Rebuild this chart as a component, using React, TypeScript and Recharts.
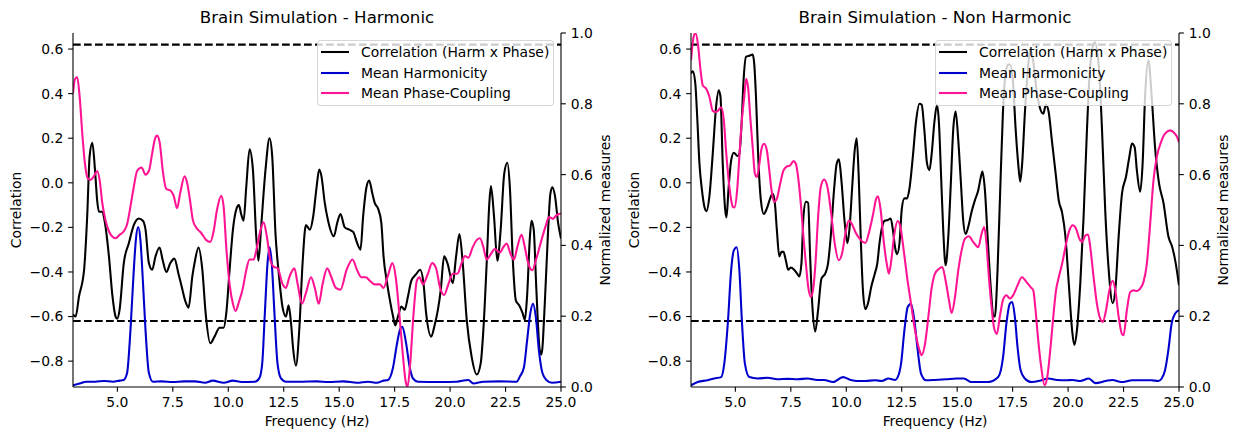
import React from 'react';
import { LineChart, Line, XAxis, YAxis, ReferenceLine, Legend } from 'recharts';

type Pt = [number, number];

// ---------- Harmonic panel ----------
const harmCorr: Pt[] = [
  [3.0, -0.59], [3.12, -0.6], [3.27, -0.51], [3.5, -0.39], [3.64, -0.15], [3.75, 0.12], [3.87, 0.18], [3.99, 0.06],
  [4.09, -0.08], [4.17, -0.13], [4.32, -0.13], [4.44, -0.18], [4.62, -0.33], [4.77, -0.5], [4.92, -0.6], [4.99, -0.61],
  [5.1, -0.57], [5.29, -0.36], [5.52, -0.27], [5.74, -0.19], [5.97, -0.16], [6.15, -0.17], [6.27, -0.21], [6.42, -0.36],
  [6.57, -0.39], [6.72, -0.33], [6.9, -0.29], [7.05, -0.35], [7.21, -0.4], [7.39, -0.36], [7.57, -0.34], [7.76, -0.41],
  [7.91, -0.47], [8.06, -0.53], [8.21, -0.56], [8.38, -0.42], [8.48, -0.36], [8.66, -0.29], [8.83, -0.39], [8.98, -0.585],
  [9.19, -0.72], [9.38, -0.69], [9.61, -0.65], [9.79, -0.65], [9.91, -0.585], [10.06, -0.39], [10.21, -0.21], [10.36, -0.12],
  [10.48, -0.1], [10.58, -0.14], [10.69, -0.17], [10.81, -0.02], [10.96, 0.15], [11.11, 0.06], [11.26, -0.24], [11.36, -0.35],
  [11.48, -0.2], [11.68, 0.06], [11.86, 0.2], [11.98, 0.12], [12.13, -0.23], [12.28, -0.41], [12.45, -0.56], [12.6, -0.6],
  [12.72, -0.55], [12.83, -0.63], [12.93, -0.75], [13.05, -0.82], [13.2, -0.66], [13.35, -0.36], [13.5, -0.19], [13.68, -0.21],
  [13.83, -0.15], [13.98, -0.02], [14.1, 0.06], [14.2, 0.03], [14.35, -0.09], [14.5, -0.17], [14.76, -0.24], [14.91, -0.18],
  [15.06, -0.14], [15.25, -0.2], [15.45, -0.21], [15.63, -0.22], [15.81, -0.27], [15.96, -0.3], [16.08, -0.15], [16.23, -0.02],
  [16.35, 0.01], [16.5, -0.05], [16.6, -0.09], [16.75, -0.115], [16.9, -0.18], [17.0, -0.33], [17.16, -0.45], [17.31, -0.54],
  [17.43, -0.6], [17.53, -0.64], [17.65, -0.6], [17.8, -0.555], [17.95, -0.57], [18.1, -0.51], [18.25, -0.44], [18.47, -0.41],
  [18.65, -0.39], [18.8, -0.45], [18.92, -0.585], [19.15, -0.69], [19.3, -0.64], [19.45, -0.57], [19.58, -0.48], [19.73, -0.33],
  [19.88, -0.36], [20.12, -0.45], [20.27, -0.33], [20.42, -0.23], [20.57, -0.36], [20.75, -0.615], [20.97, -0.78], [21.2, -0.86],
  [21.38, -0.81], [21.5, -0.66], [21.65, -0.36], [21.77, -0.09], [21.84, -0.015], [21.98, -0.15], [22.13, -0.35], [22.28, -0.21],
  [22.44, 0.04], [22.58, 0.09], [22.7, -0.03], [22.82, -0.33], [22.97, -0.53], [23.12, -0.55], [23.27, -0.585], [23.37, -0.615],
  [23.47, -0.51], [23.6, -0.24], [23.67, -0.17], [23.77, -0.21], [23.89, -0.48], [24.04, -0.75], [24.12, -0.77], [24.27, -0.54],
  [24.42, -0.21], [24.52, -0.05], [24.61, -0.02], [24.73, -0.06], [24.87, -0.18], [25.0, -0.25],
];

const harmHarm: Pt[] = [
  [3.0, 0.005], [3.3, 0.01], [3.6, 0.015], [4.0, 0.015], [4.4, 0.017], [4.8, 0.015], [5.1, 0.018], [5.29, 0.02],
  [5.44, 0.04], [5.59, 0.16], [5.74, 0.33], [5.84, 0.42], [5.94, 0.452], [6.04, 0.415], [6.15, 0.3], [6.27, 0.16],
  [6.42, 0.04], [6.6, 0.015], [7.0, 0.016], [7.5, 0.014], [8.0, 0.016], [8.5, 0.016], [8.95, 0.012], [9.3, 0.018],
  [9.8, 0.012], [10.2, 0.018], [10.6, 0.014], [11.2, 0.015], [11.4, 0.025], [11.53, 0.066], [11.65, 0.21], [11.77, 0.35],
  [11.86, 0.395], [11.96, 0.35], [12.08, 0.21], [12.22, 0.066], [12.38, 0.024], [12.6, 0.015], [13.2, 0.015], [14.0, 0.016],
  [14.5, 0.014], [15.2, 0.016], [15.8, 0.012], [16.3, 0.015], [16.7, 0.012], [17.0, 0.018], [17.2, 0.02], [17.43, 0.056],
  [17.6, 0.12], [17.76, 0.165], [17.85, 0.17], [18.0, 0.13], [18.18, 0.056], [18.33, 0.024], [18.55, 0.015], [19.5, 0.014],
  [20.3, 0.015], [20.82, 0.02], [21.05, 0.01], [21.5, 0.015], [22.2, 0.016], [23.0, 0.015], [23.15, 0.03], [23.33, 0.056],
  [23.47, 0.13], [23.62, 0.21], [23.74, 0.235], [23.86, 0.2], [24.01, 0.1], [24.16, 0.04], [24.34, 0.02], [24.6, 0.012],
  [25.0, 0.015],
];

const harmPhase: Pt[] = [
  [3.0, 0.83], [3.09, 0.87], [3.19, 0.875], [3.3, 0.82], [3.42, 0.715], [3.54, 0.63], [3.66, 0.59], [3.79, 0.585],
  [3.94, 0.595], [4.09, 0.61], [4.2, 0.585], [4.32, 0.52], [4.47, 0.47], [4.62, 0.44], [4.77, 0.425], [4.92, 0.42],
  [5.1, 0.43], [5.29, 0.44], [5.44, 0.46], [5.59, 0.51], [5.74, 0.565], [5.89, 0.61], [6.09, 0.62], [6.27, 0.6],
  [6.42, 0.61], [6.57, 0.66], [6.69, 0.7], [6.79, 0.71], [6.91, 0.69], [7.05, 0.61], [7.2, 0.56], [7.39, 0.555],
  [7.54, 0.54], [7.69, 0.505], [7.84, 0.55], [8.03, 0.595], [8.15, 0.575], [8.27, 0.53], [8.41, 0.47], [8.56, 0.45],
  [8.78, 0.435], [9.01, 0.415], [9.19, 0.41], [9.34, 0.44], [9.49, 0.5], [9.68, 0.54], [9.79, 0.51], [9.91, 0.395],
  [10.06, 0.29], [10.21, 0.235], [10.33, 0.215], [10.48, 0.24], [10.66, 0.28], [10.81, 0.33], [10.96, 0.36], [11.14, 0.36],
  [11.26, 0.385], [11.44, 0.44], [11.59, 0.465], [11.74, 0.425], [11.89, 0.36], [12.04, 0.34], [12.23, 0.335], [12.45, 0.29],
  [12.6, 0.28], [12.75, 0.31], [12.98, 0.335], [13.13, 0.29], [13.32, 0.235], [13.5, 0.265], [13.73, 0.31], [13.9, 0.28],
  [14.08, 0.235], [14.25, 0.29], [14.46, 0.335], [14.65, 0.31], [14.85, 0.28], [15.06, 0.275], [15.33, 0.33], [15.6, 0.36],
  [15.81, 0.33], [16.0, 0.31], [16.2, 0.31], [16.38, 0.3], [16.6, 0.29], [16.83, 0.29], [17.0, 0.28], [17.2, 0.315],
  [17.4, 0.35], [17.55, 0.31], [17.7, 0.215], [17.85, 0.105], [18.0, 0.015], [18.08, 0.0], [18.2, 0.065], [18.35, 0.205],
  [18.5, 0.3], [18.62, 0.31], [18.77, 0.29], [19.0, 0.32], [19.19, 0.35], [19.37, 0.335], [19.55, 0.28], [19.73, 0.26],
  [19.92, 0.29], [20.12, 0.32], [20.33, 0.32], [20.52, 0.35], [20.67, 0.37], [20.82, 0.365], [21.02, 0.395], [21.2, 0.415],
  [21.35, 0.42], [21.5, 0.395], [21.65, 0.36], [21.83, 0.375], [22.02, 0.39], [22.25, 0.38], [22.4, 0.395], [22.55, 0.405],
  [22.73, 0.375], [22.88, 0.36], [23.03, 0.395], [23.22, 0.43], [23.37, 0.395], [23.52, 0.35], [23.7, 0.33], [23.9, 0.365],
  [24.12, 0.415], [24.31, 0.455], [24.46, 0.48], [24.64, 0.475], [24.79, 0.485], [25.0, 0.49],
];

// ---------- Non harmonic panel ----------
const nonCorr: Pt[] = [
  [3.0, 0.49], [3.08, 0.5], [3.19, 0.45], [3.28, 0.295], [3.38, 0.087], [3.49, -0.03], [3.61, -0.11], [3.7, -0.127],
  [3.83, -0.06], [3.98, 0.13], [4.13, 0.34], [4.25, 0.415], [4.33, 0.385], [4.43, 0.087], [4.54, -0.12], [4.6, -0.155],
  [4.69, -0.03], [4.81, 0.1], [4.93, 0.135], [5.1, 0.12], [5.18, 0.13], [5.28, 0.265], [5.37, 0.46], [5.48, 0.565],
  [5.63, 0.57], [5.78, 0.575], [5.85, 0.535], [5.93, 0.385], [6.03, 0.116], [6.15, -0.078], [6.28, -0.14], [6.42, -0.115],
  [6.57, -0.07], [6.68, -0.048], [6.78, -0.09], [6.87, -0.21], [6.98, -0.33], [7.08, -0.31], [7.17, -0.31], [7.28, -0.35],
  [7.38, -0.39], [7.5, -0.38], [7.65, -0.39], [7.77, -0.405], [7.88, -0.42], [7.98, -0.36], [8.07, -0.15], [8.18, -0.085],
  [8.28, -0.09], [8.37, -0.33], [8.47, -0.55], [8.6, -0.667], [8.73, -0.57], [8.88, -0.43], [9.06, -0.405], [9.18, -0.36],
  [9.3, -0.24], [9.45, -0.03], [9.57, 0.087], [9.67, 0.105], [9.78, 0.012], [9.93, -0.18], [10.05, -0.27], [10.15, -0.2],
  [10.26, -0.03], [10.38, 0.146], [10.47, 0.2], [10.56, 0.03], [10.65, -0.24], [10.75, -0.48], [10.86, -0.567], [10.98, -0.54],
  [11.13, -0.465], [11.28, -0.41], [11.4, -0.36], [11.5, -0.27], [11.61, -0.2], [11.73, -0.17], [11.88, -0.167], [12.0, -0.16],
  [12.1, -0.21], [12.2, -0.29], [12.29, -0.32], [12.4, -0.27], [12.5, -0.12], [12.62, -0.07], [12.74, -0.07], [12.85, -0.025],
  [13.0, 0.116], [13.15, 0.28], [13.3, 0.355], [13.4, 0.35], [13.52, 0.236], [13.64, 0.087], [13.75, 0.057], [13.85, 0.13],
  [13.97, 0.27], [14.09, 0.35], [14.18, 0.265], [14.27, 0.042], [14.37, -0.21], [14.48, -0.37], [14.6, -0.24], [14.72, 0.012],
  [14.82, 0.236], [14.93, 0.32], [15.05, 0.19], [15.17, -0.003], [15.27, -0.167], [15.38, -0.23], [15.5, -0.197], [15.65, -0.13],
  [15.8, -0.078], [15.95, -0.033], [16.07, 0.027], [16.14, 0.05], [16.25, -0.033], [16.37, -0.24], [16.52, -0.48], [16.64, -0.6],
  [16.7, -0.6], [16.82, -0.39], [16.94, -0.033], [17.06, 0.31], [17.18, 0.49], [17.3, 0.53], [17.38, 0.53], [17.52, 0.445],
  [17.63, 0.25], [17.75, 0.087], [17.84, 0.005], [17.93, 0.087], [18.05, 0.31], [18.17, 0.49], [18.3, 0.6], [18.42, 0.55],
  [18.6, 0.4], [18.75, 0.33], [18.88, 0.31], [19.0, 0.35], [19.12, 0.32], [19.28, 0.18], [19.43, 0.05], [19.58, -0.08],
  [19.73, -0.134], [19.88, -0.24], [20.03, -0.45], [20.18, -0.66], [20.28, -0.727], [20.4, -0.66], [20.55, -0.45], [20.7, -0.15],
  [20.85, 0.236], [21.0, 0.53], [21.2, 0.63], [21.38, 0.53], [21.53, 0.236], [21.68, -0.137], [21.83, -0.39], [22.01, -0.54],
  [22.13, -0.48], [22.28, -0.24], [22.43, -0.048], [22.61, 0.027], [22.76, 0.116], [22.88, 0.176], [23.0, 0.16], [23.1, 0.057],
  [23.25, -0.04], [23.36, 0.087], [23.47, 0.385], [23.62, 0.55], [23.77, 0.385], [23.92, 0.16], [24.1, -0.003], [24.3, -0.09],
  [24.52, -0.24], [24.7, -0.29], [24.85, -0.36], [25.0, -0.46],
];

const nonHarm: Pt[] = [
  [3.0, 0.005], [3.3, 0.014], [3.75, 0.019], [4.05, 0.024], [4.36, 0.028], [4.5, 0.066], [4.66, 0.18], [4.81, 0.33],
  [4.93, 0.386], [5.06, 0.395], [5.18, 0.33], [5.3, 0.18], [5.43, 0.066], [5.63, 0.028], [6.0, 0.024], [6.45, 0.026],
  [6.9, 0.022], [7.35, 0.023], [7.8, 0.022], [8.25, 0.024], [8.7, 0.02], [9.0, 0.02], [9.4, 0.014], [9.85, 0.028],
  [10.2, 0.02], [10.5, 0.017], [10.85, 0.017], [11.3, 0.019], [11.6, 0.017], [11.9, 0.024], [12.2, 0.02], [12.32, 0.028],
  [12.47, 0.066], [12.62, 0.16], [12.77, 0.226], [12.92, 0.235], [13.07, 0.188], [13.22, 0.104], [13.37, 0.038], [13.6, 0.019],
  [14.0, 0.02], [14.5, 0.022], [15.0, 0.024], [15.3, 0.024], [15.65, 0.014], [16.0, 0.014], [16.4, 0.014], [16.85, 0.028],
  [17.07, 0.085], [17.22, 0.18], [17.37, 0.235], [17.48, 0.24], [17.6, 0.198], [17.72, 0.113], [17.86, 0.047], [18.05, 0.024],
  [18.35, 0.014], [18.8, 0.019], [19.1, 0.024], [19.5, 0.02], [19.9, 0.019], [20.2, 0.02], [20.55, 0.017], [20.93, 0.024],
  [21.23, 0.011], [21.7, 0.017], [22.0, 0.02], [22.4, 0.014], [22.9, 0.019], [23.3, 0.019], [23.75, 0.019], [24.07, 0.017],
  [24.22, 0.024], [24.37, 0.047], [24.52, 0.104], [24.67, 0.18], [24.82, 0.207], [25.0, 0.217],
];

const nonPhase: Pt[] = [
  [3.0, 0.923], [3.12, 0.99], [3.2, 1.0], [3.31, 0.97], [3.43, 0.895], [3.53, 0.852], [3.68, 0.843], [3.83, 0.82],
  [3.98, 0.78], [4.1, 0.777], [4.21, 0.78], [4.36, 0.79], [4.48, 0.753], [4.58, 0.668], [4.73, 0.565], [4.88, 0.51],
  [4.96, 0.507], [5.08, 0.556], [5.18, 0.65], [5.28, 0.744], [5.4, 0.82], [5.49, 0.871], [5.58, 0.843], [5.67, 0.763],
  [5.78, 0.678], [5.88, 0.603], [5.97, 0.593], [6.08, 0.63], [6.18, 0.673], [6.3, 0.687], [6.42, 0.668], [6.53, 0.612],
  [6.63, 0.556], [6.75, 0.523], [6.87, 0.532], [7.02, 0.574], [7.17, 0.612], [7.32, 0.623], [7.47, 0.626], [7.62, 0.638],
  [7.73, 0.63], [7.83, 0.593], [7.95, 0.518], [8.07, 0.424], [8.18, 0.348], [8.28, 0.285], [8.4, 0.254], [8.5, 0.273],
  [8.61, 0.348], [8.73, 0.48], [8.85, 0.565], [9.0, 0.586], [9.15, 0.565], [9.3, 0.5], [9.48, 0.405], [9.66, 0.358],
  [9.81, 0.377], [9.96, 0.433], [10.11, 0.47], [10.26, 0.46], [10.41, 0.438], [10.6, 0.419], [10.86, 0.407], [11.05, 0.443],
  [11.2, 0.485], [11.35, 0.532], [11.43, 0.539], [11.55, 0.5], [11.7, 0.405], [11.85, 0.339], [11.92, 0.32], [12.03, 0.358],
  [12.15, 0.424], [12.32, 0.469], [12.44, 0.452], [12.59, 0.386], [12.74, 0.311], [12.92, 0.235], [13.1, 0.16], [13.3, 0.104],
  [13.4, 0.09], [13.55, 0.122], [13.7, 0.198], [13.85, 0.28], [14.0, 0.32], [14.18, 0.334], [14.33, 0.339], [14.48, 0.3],
  [14.63, 0.245], [14.75, 0.209], [14.9, 0.254], [15.05, 0.33], [15.2, 0.386], [15.35, 0.419], [15.53, 0.426], [15.72, 0.41],
  [15.95, 0.395], [16.1, 0.433], [16.22, 0.452], [16.32, 0.405], [16.43, 0.31], [16.55, 0.226], [16.67, 0.165], [16.79, 0.15],
  [16.92, 0.198], [17.07, 0.247], [17.22, 0.259], [17.37, 0.25], [17.52, 0.259], [17.72, 0.287], [17.92, 0.31], [18.12, 0.297],
  [18.31, 0.282], [18.43, 0.273], [18.52, 0.226], [18.64, 0.141], [18.79, 0.056], [18.94, 0.005], [19.06, 0.028], [19.21, 0.113],
  [19.36, 0.217], [19.45, 0.27], [19.58, 0.31], [19.73, 0.348], [19.91, 0.405], [20.06, 0.443], [20.21, 0.457], [20.36, 0.447],
  [20.51, 0.419], [20.63, 0.41], [20.78, 0.428], [20.9, 0.431], [21.0, 0.395], [21.15, 0.31], [21.3, 0.235], [21.45, 0.193],
  [21.56, 0.184], [21.71, 0.217], [21.86, 0.273], [22.01, 0.3], [22.13, 0.273], [22.28, 0.198], [22.43, 0.149], [22.5, 0.146],
  [22.65, 0.217], [22.8, 0.268], [22.95, 0.273], [23.1, 0.271], [23.25, 0.278], [23.4, 0.297], [23.55, 0.348], [23.7, 0.461],
  [23.85, 0.584], [24.0, 0.65], [24.19, 0.692], [24.37, 0.716], [24.6, 0.725], [24.75, 0.72], [24.9, 0.708], [25.0, 0.692],
];

// ---------- axes / labels ----------
const xTicks = [5, 7.5, 10, 12.5, 15, 17.5, 20, 22.5, 25];
const corrTicks = [-0.8, -0.6, -0.4, -0.2, 0, 0.2, 0.4, 0.6];
const normTicks = [0, 0.2, 0.4, 0.6, 0.8, 1.0];
const corrDomain: [number, number] = [-0.916, 0.672];
const normDomain: [number, number] = [0, 1];
const freqDomain: [number, number] = [3, 25];
const thresholds = [0.62, -0.62];
const seriesNames = ['Correlation (Harm x Phase)', 'Mean Harmonicity', 'Mean Phase-Coupling'];
const seriesColors = ['#000000', '#0000cd', '#ff1493'];
const panelTitles = ['Brain Simulation - Harmonic', 'Brain Simulation - Non Harmonic'];

const FONT = '"DejaVu Sans", Verdana, sans-serif';
const FS = 13.9;
const LW = 2.08;
const TICK = 4.86;

const rows = (pts: Pt[]) => pts.map(([f, v]) => ({ f, v }));
const fmt = (v: number) => (v < 0 ? '\u2212' + Math.abs(v).toFixed(1) : v.toFixed(1));

const tickStyle = { fill: '#000', fontSize: FS, fontFamily: FONT };
const axisLine = { stroke: '#000', strokeWidth: 1.1 };
const tickLine = { stroke: '#000', strokeWidth: 1.1 };

function LegendBox() {
  return (
    <div
      style={{
        position: 'relative',
        width: 237,
        height: 66,
        background: 'rgba(255,255,255,0.8)',
        border: '1px solid rgba(204,204,204,0.8)',
        borderRadius: 4,
        boxSizing: 'border-box',
        fontFamily: FONT,
        fontSize: FS,
        color: '#000',
      }}
    >
      {seriesNames.map((name, i) => (
        <div key={name} style={{ position: 'absolute', left: 3, top: 1 + i * 20.5, height: 20.5, display: 'flex', alignItems: 'center', whiteSpace: 'nowrap' }}>
          <svg width={28} height={6} style={{ flexShrink: 0, marginRight: 12, display: 'block' }}>
            <line x1={0} x2={28} y1={3} y2={3} stroke={seriesColors[i]} strokeWidth={LW} />
          </svg>
          <span>{name}</span>
        </div>
      ))}
    </div>
  );
}

function Txt({ x, y, text, size = FS, rotate = 0 }: { x: number; y: number; text: string; size?: number; rotate?: number }) {
  return (
    <div
      style={{
        position: 'absolute',
        left: x,
        top: y,
        transform: `translate(-50%, -50%) rotate(${rotate}deg)`,
        fontFamily: FONT,
        fontSize: size,
        color: '#000',
        whiteSpace: 'nowrap',
        lineHeight: 1,
      }}
    >
      {text}
    </div>
  );
}

function Panel({ left, title, corr, harm, phase }: { left: number; title: string; corr: Pt[]; harm: Pt[]; phase: Pt[] }) {
  const W = 620;
  const H = 440;
  return (
    <div style={{ position: 'absolute', left, top: 0, width: W, height: H }}>
      <LineChart width={W} height={H} margin={{ top: 33, right: 4, bottom: 23, left: 13 }}>
        <XAxis
          xAxisId="b"
          dataKey="f"
          type="number"
          domain={freqDomain}
          ticks={xTicks}
          allowDataOverflow
          tickFormatter={(v: number) => v.toFixed(1)}
          tick={tickStyle}
          tickSize={TICK}
          tickMargin={TICK}
          axisLine={axisLine}
          tickLine={tickLine}
          height={30}
        />
        <XAxis xAxisId="t" orientation="top" type="number" domain={freqDomain} allowDataOverflow tick={false} tickLine={false} axisLine={axisLine} height={0} />
        <YAxis
          yAxisId="l"
          type="number"
          domain={corrDomain}
          ticks={corrTicks}
          allowDataOverflow
          tickFormatter={fmt}
          tick={tickStyle}
          tickSize={TICK}
          tickMargin={TICK}
          axisLine={axisLine}
          tickLine={tickLine}
          width={60}
        />
        <YAxis
          yAxisId="r"
          orientation="right"
          type="number"
          domain={normDomain}
          ticks={normTicks}
          allowDataOverflow
          tickFormatter={fmt}
          tick={tickStyle}
          tickSize={TICK}
          tickMargin={TICK}
          axisLine={axisLine}
          tickLine={tickLine}
          width={55}
        />
        {thresholds.map((t) => (
          <ReferenceLine key={t} xAxisId="b" yAxisId="l" y={t} stroke="#000" strokeWidth={LW} strokeDasharray="7.7 3.3" />
        ))}
        <Line xAxisId="b" yAxisId="l" data={rows(corr)} dataKey="v" name={seriesNames[0]} type="monotone" stroke={seriesColors[0]} strokeWidth={LW} dot={false} isAnimationActive={false} />
        <Line xAxisId="b" yAxisId="r" data={rows(harm)} dataKey="v" name={seriesNames[1]} type="monotone" stroke={seriesColors[1]} strokeWidth={LW} dot={false} isAnimationActive={false} />
        <Line xAxisId="b" yAxisId="r" data={rows(phase)} dataKey="v" name={seriesNames[2]} type="monotone" stroke={seriesColors[2]} strokeWidth={LW} dot={false} isAnimationActive={false} />
        <Legend
          layout="vertical"
          align="center"
          verticalAlign="middle"
          content={() => <LegendBox />}
          wrapperStyle={{ position: 'absolute', left: 317, top: 40, width: 237, height: 66, margin: 0, padding: 0 }}
        />
      </LineChart>
      <Txt x={317} y={18} text={title} size={16.67} />
      <Txt x={317} y={422} text="Frequency (Hz)" />
      <Txt x={17} y={210} text="Correlation" rotate={-90} />
      <Txt x={606} y={210} text="Normalized measures" rotate={-90} />
    </div>
  );
}

export default function App() {
  return (
    <div style={{ position: 'absolute', left: 0, top: 0, width: 1239, height: 440, background: '#fff', overflow: 'hidden' }}>
      <Panel left={0} title={panelTitles[0]} corr={harmCorr} harm={harmHarm} phase={harmPhase} />
      <Panel left={618} title={panelTitles[1]} corr={nonCorr} harm={nonHarm} phase={nonPhase} />
    </div>
  );
}
